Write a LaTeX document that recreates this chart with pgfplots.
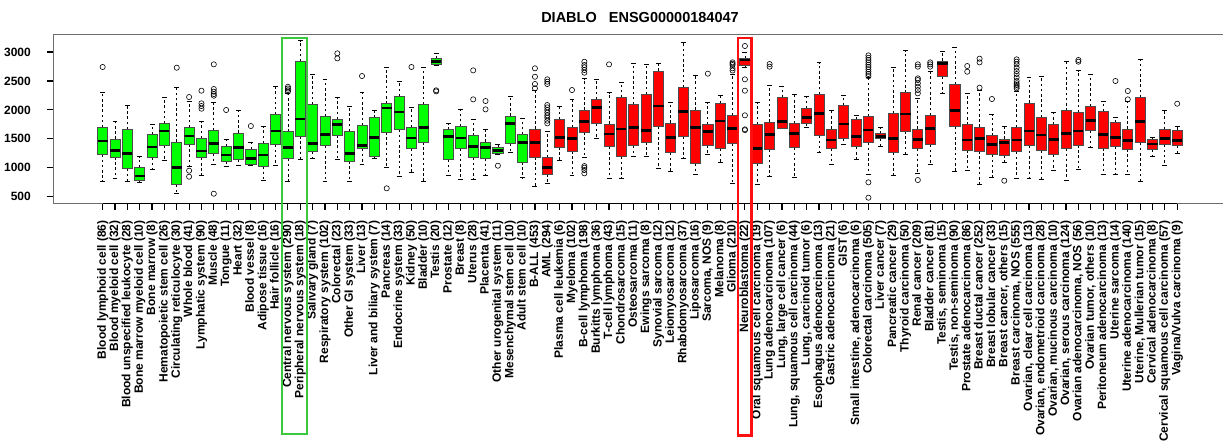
\documentclass[border=0pt]{standalone}
\usepackage{fontspec}
\setmainfont{Liberation Sans}
\usepackage{pgfplots}
\pgfplotsset{compat=1.18}
\usepgfplotslibrary{statistics}
\definecolor{boxg}{HTML}{00FF00}
\definecolor{boxr}{HTML}{FF0000}
\definecolor{hlg}{HTML}{3CC83C}
\definecolor{hlr}{HTML}{FF1010}
\definecolor{framec}{HTML}{6E6E6E}
% drawn at 1/4 scale: 1 px of the reference = 0.25 pt
\pgfplotsset{
  boxplot/draw/lower whisker/.code={%
    \draw[black, line width=0.18pt, dash pattern=on 0.65pt off 0.65pt]
      (boxplot box cs:\pgfplotsboxplotvalue{lower quartile},0.5) -- (boxplot box cs:\pgfplotsboxplotvalue{lower whisker},0.5);
    \draw[black, line width=0.2pt]
      (boxplot whisker cs:\pgfplotsboxplotvalue{lower whisker},0) -- (boxplot whisker cs:\pgfplotsboxplotvalue{lower whisker},1);
  },
  boxplot/draw/upper whisker/.code={%
    \draw[black, line width=0.18pt, dash pattern=on 0.65pt off 0.65pt]
      (boxplot box cs:\pgfplotsboxplotvalue{upper quartile},0.5) -- (boxplot box cs:\pgfplotsboxplotvalue{upper whisker},0.5);
    \draw[black, line width=0.2pt]
      (boxplot whisker cs:\pgfplotsboxplotvalue{upper whisker},0) -- (boxplot whisker cs:\pgfplotsboxplotvalue{upper whisker},1);
  },
  gb/.style={boxplot/every box/.style={draw=black!70, fill=boxg, line width=0.2pt}},
  rb/.style={boxplot/every box/.style={draw=black!70, fill=boxr, line width=0.2pt}},
}
\newcommand{\bx}[8]{\addplot[#7, mark=o, mark size=0.65pt, mark options={black, line width=0.15pt, solid},
  boxplot/draw direction=y,
  boxplot/every median/.style={black, line width=0.65pt},
  boxplot prepared={draw position=#1, lower whisker=#2, lower quartile=#3, median=#4,
  upper quartile=#5, upper whisker=#6, box extend=0.82, whisker extend=0.4}] coordinates {#8};}
\begin{document}
\begin{tikzpicture}
\begin{axis}[
  scale only axis, width=292.5pt, height=42.325pt,
  xmin=-3.02, xmax=91.71, ymin=386, ymax=3311,
  separate axis lines,
  axis x line*=bottom, axis y line*=left,
  x axis line style={framec, line width=0.25pt},
  y axis line style={framec, line width=0.25pt},
  clip=false,
  xtick={1,...,88},
  xticklabels={Blood lymphoid cell (86),Blood myeloid cell (32),Blood unspecified leukocyte (28),Bone marrow myeloid cell (10),Bone marrow (8),Hematopoietic stem cell (26),Circulating reticulocyte (30),Whole blood (41),Lymphatic system (90),Muscle (48),Tongue (11),Heart (32),Blood vessel (8),Adipose tissue (16),Hair follicle (16),Central nervous system (290),Peripheral nervous system (18),Salivary gland (7),Respiratory system (102),Colorectal (23),Other GI system (33),Liver (13),Liver and biliary system (7),Pancreas (14),Endocrine system (33),Kidney (50),Bladder (10),Testis (20),Prostate (12),Breast (8),Uterus (28),Placenta (41),Other urogenital system (11),Mesenchymal stem cell (10),Adult stem cell (10),B-ALL (453),AML (294),Plasma cell leukemia (6),Myeloma (102),B-cell lymphoma (198),Burkitts lymphoma (36),T-cell lymphoma (43),Chondrosarcoma (15),Osteosarcoma (11),Ewings sarcoma (8),Synovial sarcoma (12),Leiomyosarcoma (12),Rhabdomyosarcoma (37),Liposarcoma (16),{Sarcoma, NOS (9)},Melanoma (8),Glioma (210),Neuroblastoma (22),Oral squamous cell carcinoma (19),Lung adenocarcinoma (107),{Lung, large cell cancer (6)},{Lung, squamous cell carcinoma (44)},{Lung, carcinoid tumor (6)},Esophagus adenocarcinoma (13),Gastric adenocarcinoma (21),GIST (6),{Small intestine, adenocarcinoma (6)},Colorectal carcinoma (505),Liver cancer (7),Pancreatic cancer (29),Thyroid carcinoma (50),Renal cancer (209),Bladder cancer (81),{Testis, seminoma (15)},{Testis, non-seminoma (90)},Prostate adenocarcinoma (86),Breast ductal cancer (252),Breast lobular cancer (33),{Breast cancer, others (15)},{Breast carcinoma, NOS (555)},{Ovarian, clear cell carcinoma (13)},{Ovarian, endometrioid carcinoma (28)},{Ovarian, mucinous carcinoma (10)},{Ovarian, serous carcinoma (124)},{Ovarian adenocarcinoma, NOS (56)},{Ovarian tumor, others (10)},Peritoneum adenocarcinoma (13),Uterine sarcoma (14),Uterine adenocarcinoma (140),{Uterine, Mullerian tumor (15)},Cervical adenocarcinoma (8),Cervical squamous cell carcinoma (57),Vagina/Vulva carcinoma (9)},
  tick align=outside, major tick length=1.6pt,
  tick style={draw=black, line width=0.28pt},
  ytick={500,1000,1500,2000,2500,3000},
  /pgf/number format/assume math mode=true,
  /pgf/number format/set thousands separator={},
  scaled y ticks=false,
  yticklabel style={font=\fontsize{3}{3.5}\selectfont\bfseries, anchor=east, inner sep=0pt, xshift=-3.75pt},
  xticklabel style={font=\fontsize{3}{3}\selectfont\bfseries, yshift=-2.5pt, rotate=90, anchor=east, inner sep=0pt},
]
\coordinate (BL) at (rel axis cs:0,0);
\coordinate (TR) at (rel axis cs:1,1);
\coordinate (TL) at (rel axis cs:0,1);
\coordinate (X1) at (axis cs:1,386);
\coordinate (X88) at (axis cs:88,386);
% normal tissues
\bx{1}{760}{1232}{1462}{1693}{2303}{gb}{(0,2741)}
\bx{2}{812}{1186}{1295}{1497}{1796}{gb}{}
\bx{3}{771}{990}{1249}{1664}{2073}{gb}{}
\bx{4}{755}{775}{858}{1002}{1192}{gb}{}
\bx{5}{973}{1180}{1359}{1572}{1744}{gb}{}
\bx{6}{1123}{1382}{1635}{1762}{2211}{gb}{}
\bx{7}{558}{708}{1002}{1445}{2384}{gb}{(0,2729)}
\bx{8}{1019}{1410}{1549}{1693}{2153}{gb}{(0,2222) (0,950) (0,846)}
\bx{9}{863}{1174}{1290}{1508}{1796}{gb}{(0,2332) (0,2113) (0,2067) (0,2021)}
\bx{10}{1053}{1249}{1422}{1641}{2125}{gb}{(0,2787) (0,2361) (0,2315) (0,2274) (0,2245) (0,552)}
\bx{11}{1019}{1105}{1220}{1370}{1497}{gb}{(0,1998)}
\bx{12}{1042}{1146}{1347}{1600}{1998}{gb}{}
\bx{13}{1042}{1059}{1163}{1318}{1445}{gb}{(0,1721)}
\bx{14}{788}{1025}{1220}{1422}{1710}{gb}{}
\bx{15}{1036}{1405}{1635}{1917}{2413}{gb}{}
\bx{16}{766}{1163}{1347}{1623}{2290}{gb}{(0,2400) (0,2370) (0,2340) (0,2315)}
\bx{17}{1151}{1549}{1842}{2833}{3196}{gb}{}
\bx{18}{1163}{1278}{1422}{2090}{2614}{gb}{}
\bx{19}{760}{1382}{1577}{1883}{2528}{gb}{}
\bx{20}{1146}{1566}{1750}{1837}{2211}{gb}{(0,2977) (0,2890)}
\bx{21}{760}{1117}{1249}{1629}{2067}{gb}{}
\bx{22}{1065}{1330}{1382}{1733}{2297}{gb}{(0,2585)}
\bx{23}{1163}{1197}{1526}{1865}{1986}{gb}{}
\bx{24}{1002}{1618}{2032}{2107}{2741}{gb}{(0,645)}
\bx{25}{846}{1664}{1963}{2234}{2499}{gb}{}
\bx{26}{921}{1336}{1514}{1693}{2044}{gb}{(0,2741)}
\bx{27}{760}{1445}{1698}{2090}{2741}{gb}{}
\bx{28}{2775}{2793}{2833}{2890}{2971}{gb}{(0,2338) (0,2320)}
\bx{29}{863}{1146}{1537}{1664}{1762}{gb}{}
\bx{30}{800}{1336}{1514}{1710}{2009}{gb}{}
\bx{31}{806}{1180}{1370}{1554}{1837}{gb}{(0,2683) (0,2182)}
\bx{32}{869}{1163}{1347}{1445}{1664}{gb}{(0,2153) (0,2009)}
\bx{33}{1225}{1245}{1300}{1350}{1400}{gb}{(0,1036)}
\bx{34}{1272}{1422}{1768}{1894}{2240}{gb}{}
\bx{35}{829}{1100}{1434}{1572}{1854}{gb}{}
% cancers
\bx{36}{673}{1186}{1434}{1670}{2343}{rb}{(0,2718) (0,2573) (0,2447) (0,2373)}
\bx{37}{737}{892}{1007}{1180}{1620}{rb}{(0,2528) (0,2487) (0,2447) (0,2084) (0,2044) (0,1998) (0,1952) (0,1906) (0,1865) (0,1813) (0,1767)}
\bx{38}{1134}{1359}{1526}{1837}{2056}{rb}{}
\bx{39}{869}{1290}{1503}{1693}{2183}{rb}{(0,2343)}
\bx{40}{1174}{1618}{1802}{1998}{2539}{rb}{(0,2832) (0,2775) (0,2735) (0,2689) (0,2643) (0,1030) (0,1002) (0,961) (0,904)}
\bx{41}{1503}{1762}{2038}{2182}{2528}{rb}{}
\bx{42}{823}{1364}{1583}{1756}{2297}{rb}{(0,2787)}
\bx{43}{812}{1192}{1670}{2211}{2476}{rb}{}
\bx{44}{1203}{1387}{1698}{2090}{2798}{rb}{}
\bx{45}{1192}{1445}{1646}{2269}{2781}{rb}{}
\bx{46}{990}{1710}{2067}{2672}{2798}{rb}{}
\bx{47}{944}{1261}{1520}{1773}{2136}{rb}{}
\bx{48}{1157}{1537}{1975}{2384}{3167}{rb}{}
\bx{49}{892}{1076}{1698}{1998}{2603}{rb}{}
\bx{50}{1238}{1393}{1624}{1750}{2136}{rb}{(0,2626)}
\bx{51}{1088}{1330}{1808}{2113}{2251}{rb}{}
\bx{52}{731}{1422}{1681}{1906}{2620}{rb}{(0,2821) (0,2798) (0,2775) (0,2718) (0,2680)}
\bx{53}{2740}{2775}{2862}{2885}{3000}{rb}{(0,3104) (0,2528) (0,2332) (0,1906) (0,1664) (0,1650)}
\bx{54}{719}{1076}{1336}{1750}{2125}{rb}{}
\bx{55}{858}{1318}{1577}{1790}{2424}{rb}{(0,2792) (0,2747)}
\bx{56}{1681}{1681}{1796}{2211}{2413}{rb}{}
\bx{57}{829}{1353}{1595}{1768}{2269}{rb}{}
\bx{58}{1704}{1768}{1871}{2021}{2240}{rb}{}
\bx{59}{1267}{1560}{1940}{2269}{2816}{rb}{}
\bx{60}{1065}{1336}{1480}{1670}{1998}{rb}{}
\bx{61}{1411}{1508}{1756}{2079}{2245}{rb}{}
\bx{62}{1146}{1364}{1543}{1831}{1906}{rb}{}
\bx{63}{892}{1434}{1652}{1888}{2556}{rb}{(0,2942) (0,2900) (0,2860) (0,2820) (0,2780) (0,2740) (0,2700) (0,2660) (0,2620) (0,2580) (0,748) (0,483)}
\bx{64}{1376}{1503}{1543}{1595}{1693}{rb}{}
\bx{65}{869}{1261}{1503}{1940}{2741}{rb}{}
\bx{66}{1238}{1635}{1929}{2297}{3023}{rb}{}
\bx{67}{904}{1336}{1491}{1670}{2199}{rb}{(0,2787) (0,2747) (0,2545) (0,2516) (0,2459) (0,2401) (0,2343) (0,2286) (0,788)}
\bx{68}{1053}{1405}{1681}{1906}{2660}{rb}{(0,2821) (0,2787) (0,2747)}
\bx{69}{2286}{2574}{2798}{2844}{3006}{rb}{}
\bx{70}{944}{1710}{1986}{2441}{3086}{rb}{}
\bx{71}{961}{1307}{1480}{1744}{2286}{rb}{(0,2758) (0,2660)}
\bx{72}{719}{1290}{1509}{1704}{2332}{rb}{(0,2885) (0,2821) (0,2384)}
\bx{73}{835}{1232}{1399}{1554}{1917}{rb}{(0,2188)}
\bx{74}{1100}{1220}{1439}{1497}{1721}{rb}{(0,777)}
\bx{75}{812}{1278}{1480}{1698}{2326}{rb}{(0,2873) (0,2833) (0,2787) (0,2730) (0,2670) (0,2620) (0,2560) (0,2500) (0,2460) (0,2430) (0,2400) (0,2372)}
\bx{76}{812}{1382}{1635}{2119}{2556}{rb}{}
\bx{77}{800}{1295}{1566}{1871}{2574}{rb}{}
\bx{78}{950}{1226}{1491}{1744}{1963}{rb}{}
\bx{79}{777}{1336}{1595}{1986}{2833}{rb}{}
\bx{80}{979}{1393}{1635}{1957}{2677}{rb}{(0,2862) (0,2833)}
\bx{81}{1347}{1646}{1819}{2061}{2614}{rb}{}
\bx{82}{892}{1341}{1577}{1975}{2148}{rb}{}
\bx{83}{881}{1364}{1520}{1785}{1871}{rb}{(0,2499)}
\bx{84}{892}{1324}{1474}{1670}{2140}{rb}{(0,2326) (0,2182)}
\bx{85}{760}{1434}{1796}{2217}{2879}{rb}{}
\bx{86}{1203}{1318}{1411}{1497}{1526}{rb}{}
\bx{87}{1036}{1405}{1509}{1664}{1998}{rb}{}
\bx{88}{1255}{1382}{1474}{1652}{1710}{rb}{(0,2107)}
\end{axis}
\draw[framec, line width=0.25pt] (TR) -- (TL);
\draw[black, line width=0.25pt] (X1) -- (X88);
\node[font=\fontsize{3.625}{4}\selectfont\bfseries] at ([shift={(146.75pt,4.25pt)}]TL) {DIABLO\ \ \ ENSG00000184047};
\draw[hlg, line width=0.625pt] ([shift={(57.25pt,-1pt)}]TL) rectangle ([shift={(63.5pt,-100pt)}]TL);
\draw[hlr, line width=0.625pt] ([shift={(171.2pt,-1pt)}]TL) rectangle ([shift={(174.6pt,-100.4pt)}]TL);
\pgfresetboundingbox
\path[use as bounding box] ([shift={(-13.25pt,-59.675pt)}]BL) rectangle ([yshift=8.5pt]TR);
\end{tikzpicture}
\end{document}
